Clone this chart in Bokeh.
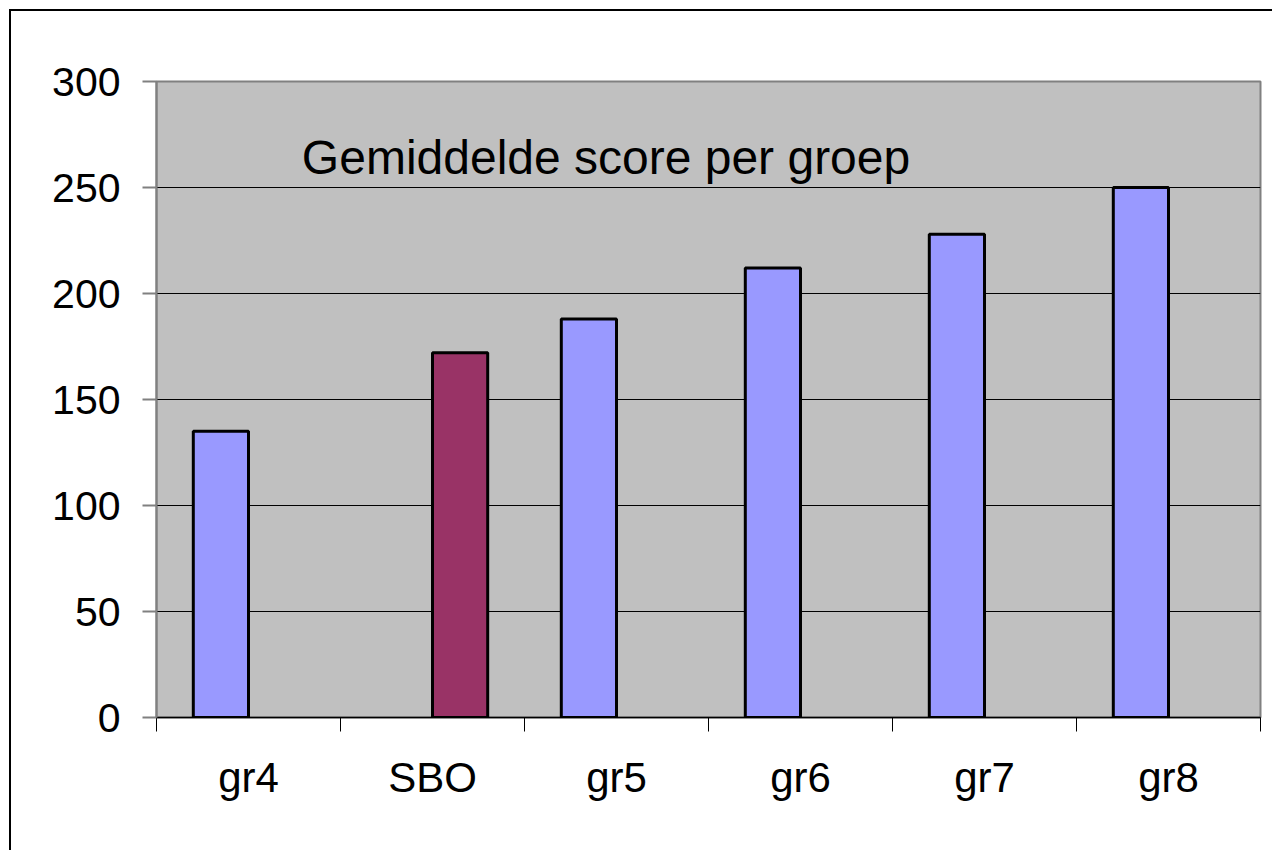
from bokeh.plotting import figure
from bokeh.models import Range1d, FixedTicker, Label, ColumnDataSource
from bokeh.embed import file_html
from bokeh.resources import INLINE

# ---- data -------------------------------------------------------------
categories = ["gr4", "SBO", "gr5", "gr6", "gr7", "gr8"]
series = ["groep", "SBO", "groep", "groep", "groep", "groep"]
scores = [135, 172, 188, 212, 228, 250]
y_ticks = [0, 50, 100, 150, 200, 250, 300]
title_text = "Gemiddelde score per groep"

# ---- styling ----------------------------------------------------------
series_colors = {"groep": "#9999FF", "SBO": "#993366"}
series_offset = {"groep": -0.15, "SBO": 0.15}
bar_width = 0.3
FONT = "Liberation Sans"

centers = [i + 0.5 for i in range(len(categories))]
bar_x = [c + series_offset[s] for c, s in zip(centers, series)]
bar_colors = [series_colors[s] for s in series]
source = ColumnDataSource(dict(x=bar_x, top=scores, color=bar_colors, cat=categories))

p = figure(
    output_backend="svg",
    toolbar_location=None,
    x_range=Range1d(0, len(categories)),
    y_range=Range1d(y_ticks[0], y_ticks[-1]),
    frame_width=1104,
    frame_height=636,
    min_border_left=145,
    min_border_right=12,
    min_border_top=70,
    min_border_bottom=133,
    background_fill_color="#C0C0C0",
    border_fill_color="white",
    outline_line_color="#808080",
    outline_line_width=2,
)
p.styles = {"border-left": "2px solid black", "border-top": "2px solid black",
            "margin-left": "9px", "margin-top": "9px"}

p.vbar(x="x", top="top", bottom=0, width=bar_width, source=source,
       fill_color="color", line_color="black", line_width=3)

# y axis
p.yaxis.ticker = FixedTicker(ticks=y_ticks)
p.yaxis.axis_line_color = "#808080"
p.yaxis.axis_line_width = 2
p.yaxis.major_tick_line_color = "#808080"
p.yaxis.major_tick_line_width = 2
p.yaxis.major_tick_in = 0
p.yaxis.major_tick_out = 14
p.yaxis.minor_tick_line_color = None
p.yaxis.major_label_standoff = 22
p.yaxis.major_label_text_font = FONT
p.yaxis.major_label_text_font_size = "41px"
p.yaxis.major_label_text_color = "black"

# x axis: labels at category centres, ticks at category boundaries
p.xaxis.ticker = FixedTicker(ticks=centers, minor_ticks=list(range(len(categories) + 1)))
p.xaxis.major_label_overrides = {c: name for c, name in zip(centers, categories)}
p.xaxis.axis_line_color = "black"
p.xaxis.axis_line_width = 1.5
p.xaxis.major_tick_line_color = None
p.xaxis.major_tick_in = 0
p.xaxis.major_tick_out = 0
p.xaxis.minor_tick_line_color = "black"
p.xaxis.minor_tick_line_width = 1
p.xaxis.minor_tick_in = 0
p.xaxis.minor_tick_out = 14
p.xaxis.major_label_standoff = 22
p.xaxis.major_label_text_font = FONT
p.xaxis.major_label_text_font_size = "42px"
p.xaxis.major_label_text_color = "black"

# grid
p.xgrid.visible = False
p.ygrid.ticker = FixedTicker(ticks=y_ticks)
p.ygrid.grid_line_color = "black"
p.ygrid.grid_line_width = 1

p.add_layout(Label(x=0.79, y=264, text=title_text, text_font=FONT,
                   text_font_size="48px", text_color="black",
                   text_baseline="alphabetic"))

open("out.html", "w").write(file_html(p, INLINE))
